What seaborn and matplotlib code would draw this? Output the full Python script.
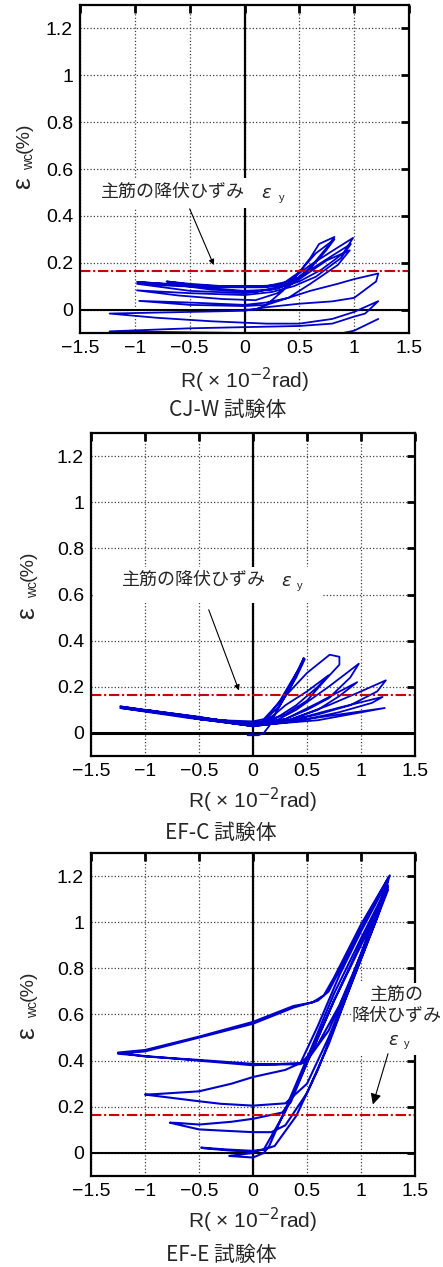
import numpy as np
import pandas as pd
import seaborn as sns
import matplotlib
import matplotlib.pyplot as plt
import matplotlib.patches as mpatches

# ---- data (R in 1e-2 rad, strain in %) ----
cjw = [(0, 0), (0.1, 0.0), (0.2, 0.02), (0.35, 0.08), (0.5, 0.16), (0.6, 0.22), (0.68, 0.28), (0.82, 0.31),
       (0.76, 0.27), (0.6, 0.18), (0.42, 0.11), (0.25, 0.085), (0, 0.08), (-0.3, 0.09), (-0.55, 0.11), (-0.71, 0.12),
       (-0.5, 0.11), (-0.2, 0.1), (0.1, 0.1), (0.33, 0.104), (0.5, 0.16), (0.65, 0.24), (0.82, 0.30),
       (0.74, 0.25), (0.55, 0.15), (0.35, 0.1), (0.1, 0.075), (-0.3, 0.085), (-0.7, 0.11), (-0.98, 0.118),
       (-0.6, 0.105), (-0.2, 0.1), (0.2, 0.1), (0.4, 0.12), (0.6, 0.19), (0.8, 0.25), (0.99, 0.306),
       (0.9, 0.24), (0.7, 0.17), (0.5, 0.12), (0.3, 0.09), (0, 0.07), (-0.5, 0.08), (-0.98, 0.11),
       (-0.6, 0.1), (-0.2, 0.095), (0.2, 0.095), (0.4, 0.11), (0.6, 0.17), (0.8, 0.23), (0.97, 0.28),
       (0.88, 0.22), (0.65, 0.14), (0.45, 0.1), (0.25, 0.075), (0, 0.062), (-0.5, 0.07), (-0.98, 0.082),
       (-0.6, 0.06), (-0.2, 0.045), (0.1, 0.04), (0.3, 0.07), (0.5, 0.13), (0.75, 0.21), (0.96, 0.253),
       (0.85, 0.19), (0.6, 0.11), (0.4, 0.05), (0.2, 0.03), (0, 0.02), (-0.5, 0.03), (-0.96, 0.037),
       (-0.5, 0.02), (0, 0.015), (0.2, 0.02), (0.4, 0.05), (0.6, 0.08), (0.85, 0.11), (1.0, 0.13), (1.22, 0.154),
       (1.2, 0.12), (1.0, 0.05), (0.8, 0.035), (0.5, 0.025), (0.2, 0.01), (0, -0.005), (-0.5, -0.01), (-1.23, -0.017),
       (-0.8, -0.035), (-0.3, -0.05), (0.2, -0.06), (0.5, -0.06), (0.8, -0.04), (1.0, -0.01), (1.22, 0.036),
       (1.1, -0.017), (1.0, -0.03), (0.8, -0.06), (0.5, -0.07), (0, -0.075), (-0.5, -0.08), (-1.23, -0.093),
       (-0.5, -0.097), (0, -0.1), (0.5, -0.1), (0.9, -0.1), (1.0, -0.09), (1.22, -0.04)]

efc = [(0, 0), (-0.05, -0.01), (0.05, -0.01), (0.1, 0.0), (0.15, 0.03), (0.25, 0.12), (0.35, 0.21), (0.47, 0.325),
       (0.45, 0.3), (0.35, 0.2), (0.2, 0.08), (0.1, 0.045), (0, 0.04), (-0.25, 0.05), (0, 0.045), (0.1, 0.05),
       (0.25, 0.14), (0.35, 0.22), (0.48, 0.32), (0.4, 0.24), (0.25, 0.12), (0.1, 0.05), (0, 0.04),
       (-0.3, 0.05), (-0.5, 0.06), (-0.3, 0.055), (0, 0.05), (0.1, 0.06), (0.3, 0.16), (0.5, 0.26),
       (0.71, 0.339), (0.8, 0.33), (0.8, 0.296), (0.65, 0.22), (0.5, 0.14), (0.3, 0.08), (0.1, 0.05),
       (0, 0.04), (-0.4, 0.06), (-0.75, 0.08), (-0.4, 0.055), (0, 0.035), (0.1, 0.04), (0.3, 0.12),
       (0.5, 0.18), (0.7, 0.25), (0.6, 0.2), (0.4, 0.12), (0.2, 0.06), (0, 0.04), (-0.75, 0.08),
       (-0.4, 0.06), (0, 0.04), (0.2, 0.05), (0.4, 0.1), (0.7, 0.2), (0.98, 0.30), (0.9, 0.24), (0.7, 0.15),
       (0.5, 0.1), (0.3, 0.06), (0, 0.035), (-0.5, 0.06), (-1.0, 0.1), (-0.5, 0.065), (0, 0.035),
       (0.3, 0.06), (0.6, 0.13), (0.965, 0.22), (0.8, 0.16), (0.6, 0.1), (0.3, 0.05), (0, 0.03),
       (-0.5, 0.06), (-1.0, 0.1), (-0.5, 0.07), (0, 0.03), (0.3, 0.05), (0.7, 0.12), (1.0, 0.18),
       (1.23, 0.228), (1.15, 0.18), (0.9, 0.12), (0.6, 0.08), (0.3, 0.05), (0, 0.03), (-0.6, 0.07),
       (-1.23, 0.115), (-0.6, 0.075), (0, 0.035), (0.4, 0.06), (0.8, 0.11), (1.2, 0.156), (1.1, 0.13),
       (0.8, 0.09), (0.4, 0.05), (0, 0.03), (-0.6, 0.065), (-1.23, 0.108), (-0.6, 0.07), (0, 0.028),
       (0.5, 0.06), (1.22, 0.108), (0.6, 0.055), (0, 0.032), (-0.6, 0.072), (-1.2, 0.112)]

efe = [(0, 0), (-0.22, -0.013), (0, -0.02), (0.1, 0.0), (0.15, 0.03), (0.3, 0.19), (0.5, 0.41), (0.75, 0.69),
       (1.0, 0.93), (1.25, 1.16), (1.15, 1.02), (1.0, 0.84), (0.8, 0.6), (0.6, 0.36), (0.4, 0.16), (0.2, 0.03),
       (0.1, 0.015), (0, 0.009), (-0.25, 0.015), (-0.48, 0.023), (-0.45, 0.02), (-0.2, 0.01), (0, 0.005),
       (0.1, 0.015), (0.3, 0.18), (0.5, 0.39), (0.75, 0.66), (1.0, 0.9), (1.25, 1.14), (1.1, 0.96),
       (0.9, 0.72), (0.7, 0.47), (0.5, 0.26), (0.3, 0.12), (0.17, 0.09), (0, 0.09), (-0.3, 0.097),
       (-0.5, 0.102), (-0.77, 0.131), (-0.7, 0.13), (-0.5, 0.123), (-0.2, 0.135), (0, 0.148),
       (0.27, 0.175), (0.35, 0.22), (0.5, 0.39), (0.75, 0.66), (1.0, 0.91), (1.25, 1.15), (1.1, 0.97),
       (0.9, 0.73), (0.7, 0.5), (0.5, 0.3), (0.3, 0.215), (0, 0.205), (-0.3, 0.213), (-0.5, 0.224),
       (-1.0, 0.253), (-0.9, 0.255), (-0.5, 0.267), (-0.2, 0.3), (0, 0.329), (0.3, 0.36), (0.44, 0.39),
       (0.6, 0.55), (0.8, 0.77), (1.0, 0.96), (1.25, 1.18), (1.1, 0.99), (0.9, 0.74), (0.7, 0.53),
       (0.5, 0.4), (0.44, 0.385), (0.2, 0.383), (0, 0.386), (-0.5, 0.403), (-1.0, 0.418), (-1.25, 0.435),
       (-1.0, 0.446), (-0.5, 0.504), (0, 0.568), (0.375, 0.637), (0.55, 0.652), (0.656, 0.683),
       (0.75, 0.76), (1.0, 0.99), (1.266, 1.203), (1.2, 1.1), (1.0, 0.86), (0.8, 0.64), (0.6, 0.47),
       (0.45, 0.39), (0, 0.38), (-0.5, 0.4), (-1.25, 0.43), (-1.0, 0.44), (-0.5, 0.5), (0, 0.56),
       (0.375, 0.63), (0.6, 0.66), (0.7, 0.7), (1.0, 0.97), (1.25, 1.19)]

panels = [cjw, efc, efe]
titles = ['CJ-W 試験体', 'EF-C 試験体', 'EF-E 試験体']
yield_strain = 0.165

xticks = [-1.5, -1, -0.5, 0, 0.5, 1, 1.5]
xticklabels = ['\u22121.5', '\u22121', '\u22120.5', '0', '0.5', '1', '1.5']
yticks = [0, 0.2, 0.4, 0.6, 0.8, 1.0, 1.2]
yticklabels = ['0', '0.2', '0.4', '0.6', '0.8', '1', '1.2']

# ---- style ----
sns.set_style('white')
plt.rcParams['font.family'] = ['Liberation Sans', 'Noto Sans CJK JP']
plt.rcParams['mathtext.fontset'] = 'dejavusans'

fig = plt.figure(figsize=(4.43, 12.67), dpi=100)
W, H = 443.0, 1267.0
# axes boxes in pixels: left, top, right, bottom
boxes = [(80, 5, 409, 333), (91, 433, 415, 756), (91, 853, 415, 1176)]
title_pos = [(228, 410), (221, 833), (221, 1255)]
# y label pieces (pixel x, pixel y of eps / wc / (%))
ylab = [(23, 183, 161, 138), (27, 613, 589, 566), (27, 1033, 1009, 986)]
# white label boxes (data coords x0, x1, y0, y1)
note_box = [(-1.47, 0.41, 0.432, 0.56), (-1.47, 0.635, 0.564, 0.72), (0.93, 1.8, 0.425, 0.735)]


def px2ax(l, t, r, b, x, y):
    return (x - l) / (r - l), (b - y) / (b - t)


for i, data in enumerate(panels):
    l, t, r, b = boxes[i]
    ax = fig.add_axes([l / W, 1 - b / H, (r - l) / W, (b - t) / H])
    df = pd.DataFrame(data, columns=['R', 'eps'])

    ax.grid(True, ls=':', color='0.25', lw=0.9)
    ax.axhline(0, color='k', lw=2.2 if i == 1 else 1.5, zorder=1.8)
    ax.axvline(0, color='k', lw=1.6, zorder=1.8)
    sns.lineplot(data=df, x='R', y='eps', sort=False, estimator=None, ax=ax,
                 color='#0000CD', lw=1.5 if i == 2 else 1.3, zorder=2)
    ax.axhline(yield_strain, color='#CC0000', lw=1.5, ls=(0, (5, 1.3, 1, 1.3)), zorder=2.2)

    ax.set_xlim(-1.5, 1.5)
    ax.set_ylim(-0.1, 1.3)
    ax.set_xticks(xticks)
    ax.set_xticklabels(xticklabels)
    ax.set_yticks(yticks)
    ax.set_yticklabels(yticklabels)
    ax.tick_params(direction='in', length=6, width=2, top=True, right=True,
                   labelsize=14, pad=5, colors='black')
    for s in ax.spines.values():
        s.set_linewidth(1.6)
        s.set_color('black')
    ax.set_xlabel('')
    ax.set_ylabel('')

    hpx = b - t
    ax.text(0.5, -(47 if i == 0 else 44) / hpx, 'R( × 10$^{-2}$rad)', transform=ax.transAxes,
            ha='center', va='center', fontsize=15)
    # y label: eps, subscript wc, (%)
    yx, ye, yw, yp = ylab[i]
    ax.text(*px2ax(l, t, r, b, yx, ye), 'ε', transform=ax.transAxes, rotation=90,
            ha='center', va='center', fontsize=19, clip_on=False)
    ax.text(*px2ax(l, t, r, b, yx + 6, yw), 'wc', transform=ax.transAxes, rotation=90,
            ha='center', va='center', fontsize=10, clip_on=False)
    ax.text(*px2ax(l, t, r, b, yx + 1, yp), '(%)', transform=ax.transAxes, rotation=90,
            ha='center', va='center', fontsize=14, clip_on=False)
    fig.text(title_pos[i][0] / W, 1 - title_pos[i][1] / H, titles[i], ha='center', va='center',
             fontsize=15, family=['Noto Sans CJK JP'])

    # white background behind the note (covers grid, stays under the spines except on the last panel)
    bx0, bx1, by0, by1 = note_box[i]
    ax.add_patch(mpatches.Rectangle((bx0, by0), bx1 - bx0, by1 - by0, fc='white', ec='none',
                                    zorder=3 if i == 2 else 2.3, clip_on=False))
    if i == 0:
        ax.text(-1.31, 0.50, '主筋の降伏ひずみ', ha='left', va='center', fontsize=13, zorder=4)
        ax.text(0.15, 0.497, '$\\varepsilon$', ha='left', va='center', fontsize=13, zorder=4)
        ax.text(0.31, 0.478, 'y', ha='left', va='center', fontsize=8, zorder=4)
        ax.annotate('', xy=(-0.28, 0.19), xytext=(-0.5, 0.43),
                    arrowprops=dict(arrowstyle='-|>', color='k', lw=0.8, mutation_scale=8, shrinkA=0, shrinkB=0))
    elif i == 1:
        ax.text(-1.215, 0.66, '主筋の降伏ひずみ', ha='left', va='center', fontsize=13, zorder=4)
        ax.text(0.26, 0.657, '$\\varepsilon$', ha='left', va='center', fontsize=13, zorder=4)
        ax.text(0.41, 0.638, 'y', ha='left', va='center', fontsize=8, zorder=4)
        ax.annotate('', xy=(-0.13, 0.184), xytext=(-0.41, 0.534),
                    arrowprops=dict(arrowstyle='-|>', color='k', lw=0.8, mutation_scale=8, shrinkA=0, shrinkB=0))
    else:
        ax.text(1.33, 0.68, '主筋の', ha='center', va='center', fontsize=13, zorder=4, clip_on=False)
        ax.text(1.33, 0.593, '降伏ひずみ', ha='center', va='center', fontsize=13, zorder=4, clip_on=False)
        ax.text(1.30, 0.487, '$\\varepsilon$', ha='center', va='center', fontsize=13, zorder=4, clip_on=False)
        ax.text(1.42, 0.47, 'y', ha='center', va='center', fontsize=8, zorder=4, clip_on=False)
        ax.annotate('', xy=(1.11, 0.21), xytext=(1.25, 0.43), annotation_clip=False,
                    arrowprops=dict(arrowstyle='-|>', color='k', lw=0.8, mutation_scale=16, shrinkA=0, shrinkB=0))

fig.savefig('out.png', dpi=100)
